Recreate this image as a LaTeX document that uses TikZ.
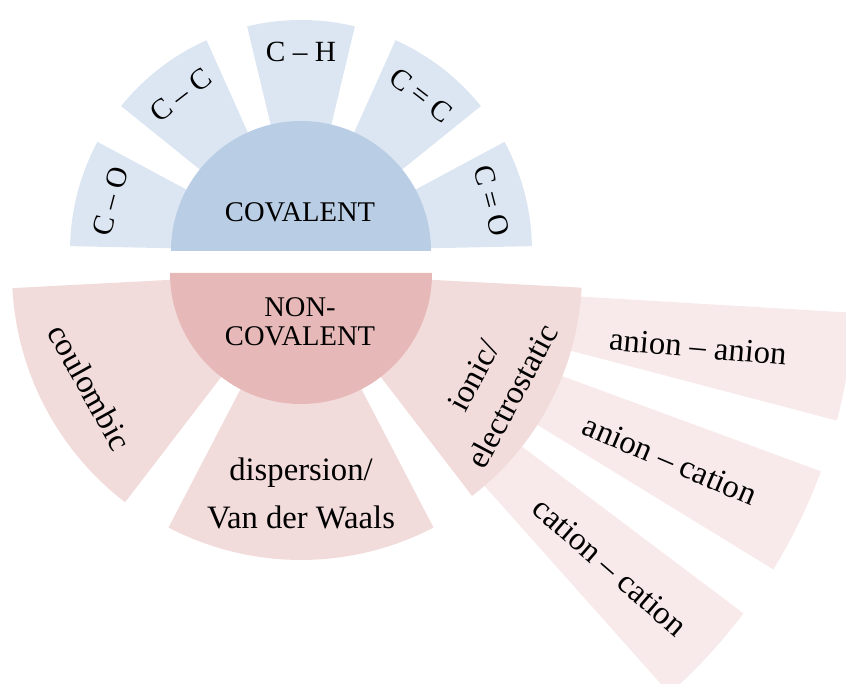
\documentclass[tikz,border=0pt]{standalone}
\usepackage{fontspec}
\setmainfont{Liberation Serif}
\usetikzlibrary{calc}

\definecolor{covdark}{RGB}{185,205,229}
\definecolor{covlight}{RGB}{220,230,242}
\definecolor{ncdark}{RGB}{230,185,184}
\definecolor{nclight}{RGB}{242,220,219}
\definecolor{ionlight}{RGB}{248,234,234}

\tikzset{every picture/.style={line width=0.75pt}}
\tikzset{
  covhalf/.style={fill=covdark},
  bondpart/.style={fill=covlight},
  nchalf/.style={fill=ncdark},
  ncpart/.style={fill=nclight},
  ionpart/.style={fill=ionlight},
  bondtext/.style={font=\fontsize{22}{24}\selectfont, inner sep=0.75pt},
  headtext/.style={font=\fontsize{21.4}{21.5}\selectfont, inner sep=0.75pt, align=center},
  kindtext/.style={font=\fontsize{24.5}{36}\selectfont, inner sep=0.75pt, align=center}
}

\begin{document}
\begin{tikzpicture}[x=0.75pt,y=0.75pt]
\clip (0,0) rectangle (846,684);
\coordinate (cov) at (301,433);
\coordinate (nc) at (301,411);
\coordinate (ion) at (301,404);
%Shape: Circle Sector (anion - anion)
\fill [ionpart] (ion) -- ++(-3.4:554) arc [start angle=-3.4, end angle=-14.7, radius=554] -- cycle;
%Shape: Circle Sector (anion - cation)
\fill [ionpart] (ion) -- ++(-20.2:554) arc [start angle=-20.2, end angle=-31.5, radius=554] -- cycle;
%Shape: Circle Sector (cation - cation)
\fill [ionpart] (ion) -- ++(-37:554) arc [start angle=-37, end angle=-48.3, radius=554] -- cycle;
%Shape: Circle Sector (coulombic)
\fill [ncpart] (nc) -- ++(183:289) arc [start angle=183, end angle=232.5, radius=289] -- cycle;
%Shape: Circle Sector (dispersion)
\fill [ncpart] (nc) -- ++(242.5:287) arc [start angle=242.5, end angle=297.5, radius=287] -- cycle;
%Shape: Circle Sector (ionic)
\fill [ncpart] (nc) -- ++(307.5:281) arc [start angle=307.5, end angle=357, radius=281] -- cycle;
%Shape: Half Circle (non-covalent)
\fill [nchalf] (nc) ++(-131,0) arc [start angle=180, end angle=360, radius=131] -- cycle;
%Shape: Circle Sector (C-O)
\fill [bondpart] (cov) -- ++(178.8:231) arc [start angle=178.8, end angle=151.8, radius=231] -- cycle;
%Shape: Circle Sector (C-C)
\fill [bondpart] (cov) -- ++(141.15:231) arc [start angle=141.15, end angle=114.15, radius=231] -- cycle;
%Shape: Circle Sector (C-H)
\fill [bondpart] (cov) -- ++(103.5:231) arc [start angle=103.5, end angle=76.5, radius=231] -- cycle;
%Shape: Circle Sector (C=C)
\fill [bondpart] (cov) -- ++(65.85:231) arc [start angle=65.85, end angle=38.85, radius=231] -- cycle;
%Shape: Circle Sector (C=O)
\fill [bondpart] (cov) -- ++(28.2:231) arc [start angle=28.2, end angle=1.2, radius=231] -- cycle;
%Shape: Half Circle (covalent)
\fill [covhalf] (cov) ++(-130,0) arc [start angle=180, end angle=0, radius=130] -- cycle;
% Text Node
\draw (300,472) node [headtext] (covlbl) {COVALENT};
% Text Node
\draw (300,362) node [headtext] (nclbl) {NON-\\COVALENT};
% Text Node
\draw ($(cov)+(165.3:197)$) node [bondtext, rotate=75.3] (colbl) {C – O};
% Text Node
\draw ($(cov)+(127.65:197)$) node [bondtext, rotate=37.65] (cclbl) {C – C};
% Text Node
\draw ($(cov)+(90:199)$) node [bondtext] (chlbl) {C – H};
% Text Node
\draw ($(cov)+(52.35:197)$) node [bondtext, rotate=-37.65] (ccdlbl) {C = C};
% Text Node
\draw ($(cov)+(14.7:197)$) node [bondtext, rotate=-75.3] (codlbl) {C = O};
% Text Node
\draw (90,297) node [kindtext, rotate=-61] (coullbl) {coulombic};
% Text Node
\draw (301,191) node [kindtext] (displbl) {dispersion/\\Van der Waals};
% Text Node
\draw (493,298) node [kindtext, font=\fontsize{24.5}{33}\selectfont, rotate=62] (ioniclbl) {ionic/\\electrostatic};
% Text Node
\draw (698,337) node [kindtext, rotate=-5] (aalbl) {anion – anion};
% Text Node
\draw (670,224) node [kindtext, rotate=-23] (aclbl) {anion – cation};
% Text Node
\draw (610,117) node [kindtext, rotate=-41] (cclbl2) {cation – cation};
\end{tikzpicture}
\end{document}
